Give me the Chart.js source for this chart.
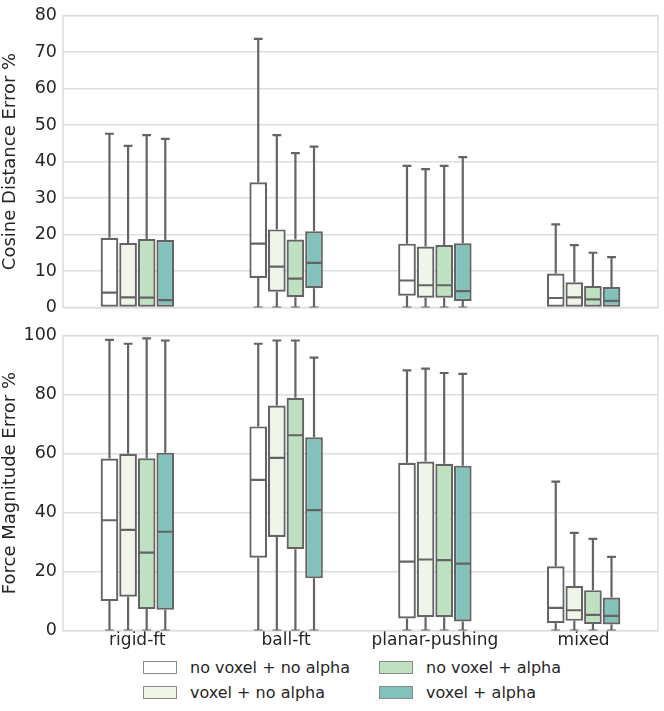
<!DOCTYPE html>
<html>
<head>
<meta charset="utf-8">
<script src="https://cdn.jsdelivr.net/npm/chart.js@4"></script>
<style>
  body { margin: 0; background: #fff; font-family: "DejaVu Sans", sans-serif; }
  #wrap { position: relative; width: 664px; height: 711px; overflow: hidden; }
  canvas { position: absolute; left: 0; }
  #cosine { top: -1px; }
  #force { top: 319px; }
  #legend { position: absolute; left: 143px; top: 658px; font-size: 16px; color: #262626; }
  .item { position: absolute; white-space: nowrap; display: flex; align-items: center; }
  .swatch { width: 32px; height: 11px; border: 1px solid #888; margin-right: 13px; }
</style>
</head>
<body>
<div id="wrap">
  <canvas id="cosine" width="664" height="325"></canvas>
  <canvas id="force" width="664" height="332"></canvas>
  <div id="legend"></div>
</div>
<script>
const categories = ['rigid-ft', 'ball-ft', 'planar-pushing', 'mixed'];
const seriesNames = ['no voxel + no alpha', 'voxel + no alpha', 'no voxel + alpha', 'voxel + alpha'];
const seriesColors = ['#ffffff', '#eff6e9', '#bfe1c1', '#83c2ba'];

// each entry per category: [min, q1, median, q3, max]
const cosNoVoxNoAlpha = [[0, 0, 4.1, 19.1, 47.6], [0, 8.1, 17.5, 34.3, 73.6], [0, 3.2, 7.4, 17.5, 38.8], [0, 0, 2.6, 9.3, 22.8]];
const cosVoxNoAlpha   = [[0, 0, 2.8, 17.7, 44.3], [0, 4.3, 11.2, 21.4, 47.2], [0, 2.7, 6.1, 16.7, 37.9], [0, 0, 2.8, 6.9, 17.1]];
const cosNoVoxAlpha   = [[0, 0, 2.7, 18.8, 47.2], [0, 2.8, 7.9, 18.6, 42.3], [0, 2.7, 6.1, 17.1, 38.8], [0, 0, 2.2, 5.9, 15.0]];
const cosVoxAlpha     = [[0, 0, 2.0, 18.5, 46.2], [0, 5.3, 12.2, 20.9, 44.1], [0, 1.8, 4.5, 17.6, 41.2], [0, 0, 1.8, 5.6, 13.8]];

const forceNoVoxNoAlpha = [[0, 10.0, 37.4, 58.3, 98.5], [0, 24.7, 51.1, 69.2, 97.2], [0, 4.1, 23.4, 56.9, 88.2], [0, 2.5, 7.7, 21.8, 50.5]];
const forceVoxNoAlpha   = [[0, 11.5, 34.1, 59.9, 97.2], [0, 31.7, 58.5, 76.3, 98.3], [0, 4.5, 24.1, 57.3, 88.8], [0, 3.3, 6.9, 15.1, 33.1]];
const forceNoVoxAlpha   = [[0, 7.3, 26.4, 58.4, 99.0], [0, 27.6, 66.2, 78.9, 98.3], [0, 4.5, 23.9, 56.5, 87.3], [0, 2.2, 5.3, 13.7, 31.1]];
const forceVoxAlpha     = [[0, 7.1, 33.5, 60.3, 98.3], [0, 17.7, 40.8, 65.5, 92.5], [0, 3.1, 22.7, 55.9, 87.0], [0, 2.1, 5.0, 11.2, 25.0]];

const cosTicks = [0, 10, 20, 30, 40, 50, 60, 70, 80];
const forceTicks = [0, 20, 40, 60, 80, 100];

const edge = '#646464';
const textColor = '#262626';
const gridColor = '#dddddd';

// whiskers, caps and medians drawn on top of the floating bars
const boxPlugin = {
    id: 'boxes',
    afterDatasetsDraw(chart) {
        const ctx = chart.ctx;
        const y = chart.scales.y;
        const a = chart.chartArea;
        ctx.save();
        ctx.beginPath();
        ctx.rect(a.left, a.top, a.right - a.left, a.bottom - a.top);
        ctx.clip();
        ctx.strokeStyle = edge;
        ctx.lineWidth = 2.2;
        chart.data.datasets.forEach((ds, di) => {
            const meta = chart.getDatasetMeta(di);
            meta.data.forEach((bar, i) => {
                const s = ds.stats[i];
                const half = bar.width / 2;
                const cap = bar.width / 4;
                const yMin = y.getPixelForValue(s[0]);
                const yQ1 = y.getPixelForValue(s[1]);
                const yMed = y.getPixelForValue(s[2]);
                const yQ3 = y.getPixelForValue(s[3]);
                const yMax = y.getPixelForValue(s[4]);
                ctx.beginPath();
                ctx.moveTo(bar.x, yQ3); ctx.lineTo(bar.x, yMax);
                ctx.moveTo(bar.x - cap, yMax); ctx.lineTo(bar.x + cap, yMax);
                if (s[1] > s[0]) {
                    ctx.moveTo(bar.x, yQ1); ctx.lineTo(bar.x, yMin);
                    ctx.moveTo(bar.x - cap, yMin); ctx.lineTo(bar.x + cap, yMin);
                }
                ctx.moveTo(bar.x - half + 1, yMed); ctx.lineTo(bar.x + half - 1, yMed);
                ctx.stroke();
            });
        });
        ctx.restore();
    }
};

const framePlugin = {
    id: 'frame',
    beforeDatasetsDraw(chart) {
        const a = chart.chartArea;
        const ctx = chart.ctx;
        ctx.save();
        ctx.strokeStyle = gridColor;
        ctx.lineWidth = 1.5;
        ctx.strokeRect(a.left, a.top, a.right - a.left, a.bottom - a.top);
        ctx.restore();
    }
};

function makeDatasets(groups) {
    return groups.map((g, k) => ({
        label: seriesNames[k],
        data: g.map(s => [s[1], s[3]]),
        stats: g,
        backgroundColor: seriesColors[k],
        borderColor: edge,
        borderWidth: 2.2,
        borderSkipped: false,
        categoryPercentage: 0.5,
        barPercentage: 0.95
    }));
}

function makeChart(id, groups, tickVals, title, showX, padding) {
    return new Chart(document.getElementById(id), {
        type: 'bar',
        data: { labels: categories, datasets: makeDatasets(groups) },
        options: {
            responsive: false,
            animation: false,
            layout: { padding: padding },
            plugins: { legend: { display: false }, tooltip: { enabled: false } },
            scales: {
                x: {
                    display: showX,
                    grid: { display: false, drawTicks: false },
                    border: { display: false },
                    ticks: { color: textColor, font: { family: 'DejaVu Sans', size: 17 }, padding: 0 }
                },
                y: {
                    min: tickVals[0],
                    max: tickVals[tickVals.length - 1],
                    afterBuildTicks: (scale) => { scale.ticks = tickVals.map(v => ({ value: v })); },
                    afterFit: (scale) => { scale.width = 63; },
                    grid: { color: gridColor, lineWidth: 1.5, drawTicks: false },
                    border: { display: false },
                    ticks: { color: textColor, font: { family: 'DejaVu Sans', size: 17.5 }, padding: 6 },
                    title: { display: true, text: title, color: textColor, font: { family: 'DejaVu Sans', size: 18 }, padding: { top: 0, bottom: 0 } }
                }
            }
        },
        plugins: [framePlugin, boxPlugin]
    });
}

makeChart('cosine', [cosNoVoxNoAlpha, cosVoxNoAlpha, cosNoVoxAlpha, cosVoxAlpha], cosTicks,
    'Cosine Distance Error %', false, { top: 4, right: 6, bottom: 10, left: 0 });
makeChart('force', [forceNoVoxNoAlpha, forceVoxNoAlpha, forceNoVoxAlpha, forceVoxAlpha], forceTicks,
    'Force Magnitude Error %', true, { top: 10, right: 6, bottom: 0, left: 0 });

// legend in two columns, column-major like the original
const legend = document.getElementById('legend');
const spots = [[0, 0], [0, 25], [236, 0], [236, 25]];
seriesNames.forEach((name, k) => {
    const item = document.createElement('div');
    item.className = 'item';
    item.style.left = spots[k][0] + 'px';
    item.style.top = spots[k][1] + 'px';
    item.innerHTML = '<span class="swatch" style="background:' + seriesColors[k] + '"></span>' + name;
    legend.appendChild(item);
});
</script>
</body>
</html>
